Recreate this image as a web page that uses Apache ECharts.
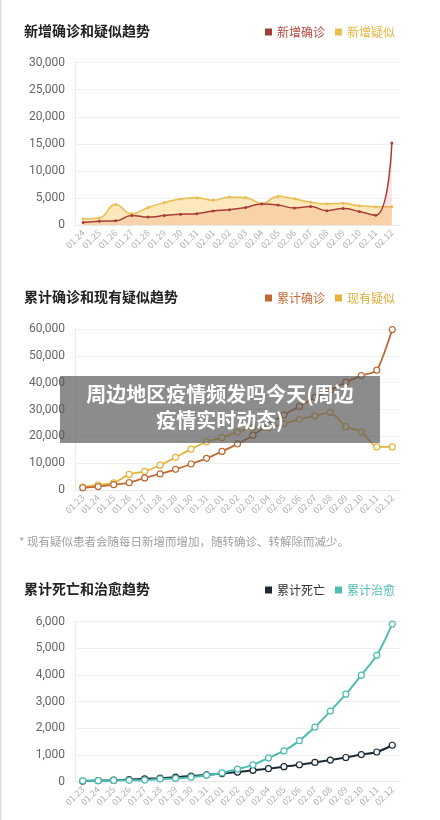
<!DOCTYPE html>
<html><head><meta charset="utf-8">
<script src="https://cdn.jsdelivr.net/npm/echarts@6/dist/echarts.min.js"></script>
<style>html,body{margin:0;padding:0;background:#fff}#c{width:440px;height:820px}</style>
</head><body><div id="c"></div>
<script>
// Chart 1 data
const days1 = ['01.24','01.25','01.26','01.27','01.28','01.29','01.30','01.31','02.01','02.02','02.03','02.04','02.05','02.06','02.07','02.08','02.09','02.10','02.11','02.12'];
const newConfirmed = [444,688,769,1771,1459,1737,1982,2102,2590,2829,3235,3887,3694,3143,3399,2656,3062,2478,1800,15152];
const newSuspected = [1118,1309,3806,2077,3248,4148,4812,5019,4562,5173,5072,3971,5328,4833,4214,3916,4008,3536,3390,3390];
// Chart 2 & 3 data
const days2 = ['01.23','01.24','01.25','01.26','01.27','01.28','01.29','01.30','01.31','02.01','02.02','02.03','02.04','02.05','02.06','02.07','02.08','02.09','02.10','02.11','02.12'];
const totalConfirmed = [830,1287,1975,2744,4515,5974,7711,9692,11791,14380,17205,20438,24324,28018,31161,34546,37198,40171,42638,44653,59804];
const currentSuspected = [1072,1965,2684,5794,6973,9239,12167,15238,17988,19544,21558,23214,23260,24702,26359,27657,28942,23589,21675,16067,16067];
const totalDeaths = [25,41,56,80,106,132,170,213,259,304,361,425,490,563,636,722,811,908,1016,1113,1367];
const totalCured = [34,38,49,51,60,103,124,171,243,328,475,632,892,1153,1540,2050,2649,3281,3996,4740,5911];
// Axis ticks
const yMax1 = 30000, yStep1 = 5000;
const yMax2 = 60000, yStep2 = 10000;
const yMax3 = 6000, yStep3 = 1000;

const titles = ['新增确诊和疑似趋势','累计确诊和现有疑似趋势','累计死亡和治愈趋势'];
const seriesNames = [['新增确诊','新增疑似'],['累计确诊','现有疑似'],['累计死亡','累计治愈']];
const colors = [['#a63f37','#e9bd52'],['#bf6a35','#e4b43c'],['#1c2a36','#4fbcb3']];
const legendText = [['#b5483f','#e8b53f'],['#c46a36','#dcae3a'],['#333333','#4fbcb3']];
const note = '* 现有疑似患者会随每日新增而增加，随转确诊、转解除而减少。';
const overlayLines = ['周边地区疫情频发吗今天(周边','疫情实时动态)'];

const font = '"Noto Sans CJK SC", Roboto, sans-serif';
const gridTops = [62.7, 329, 621.7];
const gridHeights = [162.3, 161, 160];
const titleTops = [19, 285, 577];

const chart = echarts.init(document.getElementById('c'));
const fmt = v => v.toLocaleString('en-US');

function xAxis(i, data){
  return {type:'category', gridIndex:i, data:data, boundaryGap:true,
    axisLine:{lineStyle:{color:'#e8e8e8'}}, axisTick:{show:false},
    axisLabel:{rotate:45, fontSize:9, color:'#b0b0b0', margin:6, interval:0, fontFamily:font}};
}
function yAxis(i, max, step){
  return {type:'value', gridIndex:i, min:0, max:max, interval:step,
    axisLine:{show:true, lineStyle:{color:'#ececec'}}, axisTick:{show:false},
    splitLine:{lineStyle:{color:'#efefef'}},
    axisLabel:{fontSize:12, color:'#666', margin:10, formatter:fmt, fontFamily:'Roboto, sans-serif'}};
}

const option = {
  animation:false,
  backgroundColor:'#fff',
  title: titles.map((t,i)=>({text:t, left:19, top:titleTops[i],
    textStyle:{fontSize:14, fontWeight:'bold', color:'#222', fontFamily:font}})),
  legend: seriesNames.map((names,i)=>({
    right:40, top:titleTops[i]+2, icon:'rect', itemWidth:7, itemHeight:7, itemGap:10,
    selectedMode:false,
    data: names.map((n,j)=>({name:n, textStyle:{color:legendText[i][j]},
      itemStyle:{color:colors[i][j], borderWidth:0}})),
    textStyle:{fontSize:12, fontFamily:font}
  })),
  grid: gridTops.map((t,i)=>({left:75, right:40, top:t, height:gridHeights[i]})),
  xAxis:[xAxis(0,days1), xAxis(1,days2), xAxis(2,days2)],
  yAxis:[yAxis(0,yMax1,yStep1), yAxis(1,yMax2,yStep2), yAxis(2,yMax3,yStep3)],
  series:[
    {name:seriesNames[0][0], type:'line', xAxisIndex:0, yAxisIndex:0, data:newConfirmed, smooth:true,
     symbol:'circle', symbolSize:3, itemStyle:{color:colors[0][0]}, lineStyle:{width:1.5, color:colors[0][0]},
     areaStyle:{color:'rgba(240,128,112,0.3)'}, z:3},
    {name:seriesNames[0][1], type:'line', xAxisIndex:0, yAxisIndex:0, data:newSuspected, smooth:true,
     symbol:'circle', symbolSize:3, itemStyle:{color:colors[0][1]}, lineStyle:{width:1.5, color:colors[0][1]},
     areaStyle:{color:'rgba(246,190,60,0.5)'}, z:2},
    {name:seriesNames[1][0], type:'line', xAxisIndex:1, yAxisIndex:1, data:totalConfirmed, smooth:0.2,
     symbol:'circle', symbolSize:6, itemStyle:{color:'#fff', borderColor:colors[1][0], borderWidth:1.2},
     lineStyle:{width:1.8, color:colors[1][0]}, z:3},
    {name:seriesNames[1][1], type:'line', xAxisIndex:1, yAxisIndex:1, data:currentSuspected, smooth:0.2,
     symbol:'circle', symbolSize:6, itemStyle:{color:'#fff', borderColor:colors[1][1], borderWidth:1.2},
     lineStyle:{width:1.8, color:colors[1][1]}, z:2},
    {name:seriesNames[2][0], type:'line', xAxisIndex:2, yAxisIndex:2, data:totalDeaths, smooth:0.3,
     symbol:'circle', symbolSize:6, itemStyle:{color:'#fff', borderColor:colors[2][0], borderWidth:1.2},
     lineStyle:{width:2, color:colors[2][0]}, z:2},
    {name:seriesNames[2][1], type:'line', xAxisIndex:2, yAxisIndex:2, data:totalCured, smooth:0.3,
     symbol:'circle', symbolSize:6, itemStyle:{color:'#fff', borderColor:colors[2][1], borderWidth:1.2},
     lineStyle:{width:2, color:colors[2][1]}, z:3}
  ],
  graphic:[
    {type:'rect', left:0, top:0, shape:{width:1.5, height:820}, style:{fill:'#dcdcdc'}, z:1},
    {type:'text', left:19, top:536, style:{text:note, font:'11.5px '+font, fill:'#a0a0a0'}},
    {type:'rect', left:60, top:376, shape:{width:320, height:67}, style:{fill:'rgba(85,85,85,0.68)'}, z:100},
    {type:'text', left:'center', top:384, style:{text:overlayLines[0], font:'bold 20px '+font, fill:'#fff'}, z:101},
    {type:'text', left:'center', top:410, style:{text:overlayLines[1], font:'bold 20px '+font, fill:'#fff'}, z:101}
  ]
};
chart.setOption(option);
</script>
</body></html>
